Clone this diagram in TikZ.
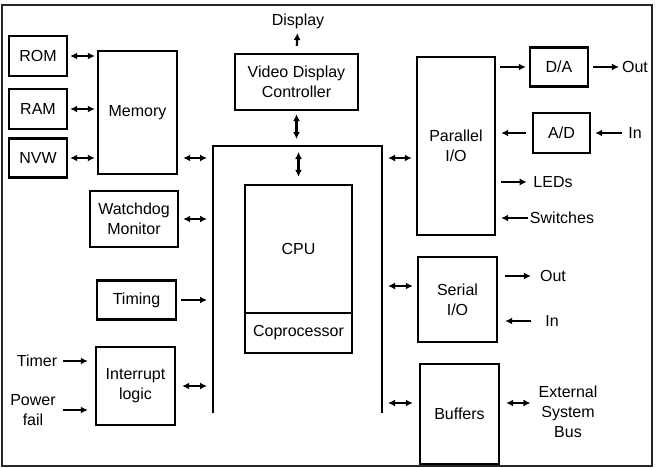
\documentclass[tikz,border=0pt]{standalone}
\usepackage{fontspec}
\setmainfont{Liberation Sans}
\usetikzlibrary{arrows.meta,calc}

\begin{document}
\begin{tikzpicture}[x=1pt,y=-1pt,
		font=\fontsize{16}{20}\selectfont,
		box/.style={draw, line width=2.4pt, align=center, inner sep=0pt},
		lbl/.style={align=center, inner sep=2pt},
		link/.style={line width=2.2pt, -{Latex[length=7pt,width=7pt]}},
		dbl/.style={line width=2.2pt, {Latex[length=7pt,width=7pt]}-{Latex[length=7pt,width=7pt]}}]
		\useasboundingbox (0,0) rectangle (658,468);
		\draw[line width=2pt, black!85] (1.5,5) rectangle (652,466);
		% memory side
		\node[box, minimum width=58pt, minimum height=40pt] (rom) at (38,56) {ROM};
		\node[box, minimum width=58pt, minimum height=40pt] (ram) at (38,109) {RAM};
		\node[box, minimum width=58pt, minimum height=39pt] (nvw) at (38,158) {NVW};
		\node[box, minimum width=79pt, minimum height=123pt] (memory) at (137.5,112.5) {Memory};
		\node[box, minimum width=88pt, minimum height=56pt] (watchdog) at (134,219) {Watchdog\\Monitor};
		\node[box, minimum width=79pt, minimum height=39pt] (timing) at (136.5,300) {Timing};
		\node[box, minimum width=79pt, minimum height=78pt] (interrupt) at (135.5,386) {Interrupt\\logic};
		\node[lbl] (timer) at (37,361) {Timer};
		\node[lbl] (pfail) at (33,410) {Power\\fail};
		% bus
		\coordinate (busL) at (213,146);
		\coordinate (busR) at (382,146);
		\draw[line width=2.8pt] (213,413) -- (busL) -- (busR) -- (382,413);
		% centre
		\node[box, minimum width=123pt, minimum height=56pt] (vdc) at (296.5,82) {Video Display\\Controller};
		\node[lbl] (display) at (298,21) {Display};
		\node[box, minimum width=107pt, minimum height=128pt] (cpu) at (298.5,249) {CPU};
		\node[box, minimum width=107pt, minimum height=40pt] (copro) at (298.5,333) {Coprocessor};
		% I/O side
		\node[box, minimum width=78pt, minimum height=178pt] (pio) at (456,146) {Parallel\\I/O};
		\node[box, minimum width=58pt, minimum height=39pt] (da) at (559,67) {D/A};
		\node[box, minimum width=57pt, minimum height=40pt] (ad) at (561.5,133) {A/D};
		\node[lbl] (out1) at (635,67) {Out};
		\node[lbl] (in1) at (635,133) {In};
		\node[lbl] (leds) at (553,182) {LEDs};
		\node[lbl] (sw) at (562,218) {Switches};
		\node[box, minimum width=79pt, minimum height=85pt] (sio) at (457.5,299.5) {Serial\\I/O};
		\node[lbl] (out2) at (553,276) {Out};
		\node[lbl] (in2) at (552,321) {In};
		\node[box, minimum width=79pt, minimum height=100pt] (buf) at (459.5,414) {Buffers};
		\node[lbl] (ext) at (568,412) {External\\System\\Bus};
		\coordinate (sioport) at ($(sio.west)+(0,-13.5)$);
		\coordinate (bufport) at ($(buf.west)+(0,-11)$);
		% connectors, left
		\draw[dbl, shorten <=2pt, shorten >=2pt] (rom.east) -- (rom.east -| memory.west);
		\draw[dbl, shorten <=2pt, shorten >=2pt] (ram.east) -- (ram.east -| memory.west);
		\draw[dbl, shorten <=2pt, shorten >=2pt] (nvw.east) -- (nvw.east -| memory.west);
		\draw[dbl, shorten <=5pt, shorten >=6pt] (memory.east |- nvw) -- (busL |- nvw);
		\draw[dbl, shorten <=4pt, shorten >=6pt] (watchdog.east) -- (busL |- watchdog);
		\draw[link, shorten <=4pt, shorten >=6pt] (timing.east) -- (busL |- timing);
		\draw[dbl, shorten <=6pt, shorten >=6pt] (interrupt.east) -- (busL |- interrupt);
		\draw[link, shorten <=3.5pt, shorten >=7pt] (timer.east) -- (timer -| interrupt.west);
		\draw[link, shorten <=5pt, shorten >=7pt] (pfail.east) -- (pfail -| interrupt.west);
		% connectors, centre
		\draw[link, shorten <=7pt, shorten >=12pt] (vdc.north) -- (display.center);
		\draw[dbl, shorten <=3pt, shorten >=7pt] (vdc.south) -- (vdc.south |- busL);
		\draw[dbl, shorten <=6pt, shorten >=7pt] (cpu.north |- busL) -- (cpu.north);
		% connectors, right
		\draw[dbl, shorten <=6pt, shorten >=4pt] (busR |- nvw) -- (pio.west |- nvw);
		\draw[dbl, shorten <=6pt, shorten >=4pt] (busR |- sioport) -- (sioport);
		\draw[dbl, shorten <=6pt, shorten >=6pt] (busR |- bufport) -- (bufport);
		\draw[dbl, shorten <=6pt, shorten >=6pt] (buf.east |- bufport) -- (ext.west |- bufport);
		\draw[link, shorten <=4pt, shorten >=3pt] (pio.east |- da) -- (da.west);
		\draw[link, shorten <=4pt, shorten >=1pt] (da.east) -- (out1.west);
		\draw[link, shorten <=4pt, shorten >=4pt] (in1.west) -- (ad.east);
		\draw[link, shorten <=6pt, shorten >=5pt] (ad.west) -- (pio.east |- ad);
		\draw[link, shorten <=5pt, shorten >=4.5pt] (pio.east |- leds) -- (leds.west);
		\draw[link, shorten <=0pt, shorten >=5pt] (sw.west) -- (pio.east |- sw);
		\draw[link, shorten <=7pt, shorten >=7pt] (sio.east |- out2) -- (out2.west);
		\draw[link, shorten <=12pt, shorten >=7pt] (in2.west) -- (sio.east |- in2);
\end{tikzpicture}
\end{document}
